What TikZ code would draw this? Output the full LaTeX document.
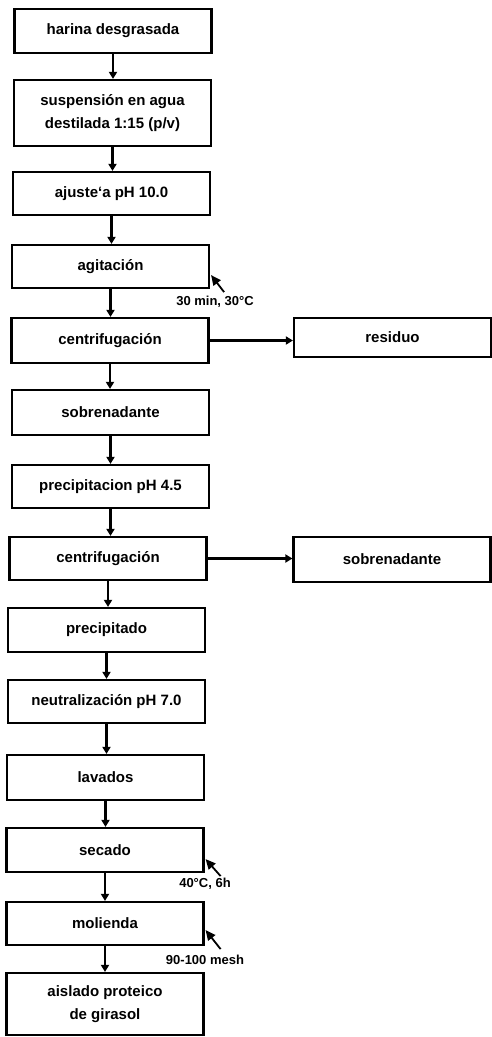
\documentclass[tikz,border=0pt]{standalone}
\usepackage{fontspec}
\setmainfont{Liberation Sans}
\usetikzlibrary{arrows.meta,calc}
\begin{document}
\begin{tikzpicture}[x=1pt,y=-1pt,
  box/.style={draw, line width=2.2pt, minimum width=197pt, inner sep=0pt,
    font=\fontsize{15}{23}\selectfont\bfseries, align=center},
  flow/.style={line width=2.4pt, -{Triangle[length=7pt,width=8pt]}},
  side/.style={line width=1.8pt, -{Triangle[length=10pt,width=9pt]}},
  note/.style={font=\fontsize{13}{15}\selectfont\bfseries, inner sep=0pt}]
\useasboundingbox (0,0) rectangle (492,1037);
\node[box, minimum height=44pt] (b1) at (113,31) {harina desgrasada};
\node[box, minimum height=66pt] (b2) at (112.5,113) {suspensión en agua\\destilada 1:15 (p/v)};
\node[box, minimum height=43pt] (b3) at (111.5,193.5) {ajuste‘a pH 10.0};
\node[box, minimum height=43pt] (b4) at (110.5,266.5) {agitación};
\node[box, minimum height=45pt] (b5) at (110,340.5) {centrifugación};
\node[box, minimum height=45pt] (b6) at (110.5,412.5) {sobrenadante};
\node[box, minimum height=43pt] (b7) at (110.5,486.5) {precipitacion pH 4.5};
\node[box, minimum height=43pt] (b8) at (108,558.5) {centrifugación};
\node[box, minimum height=44pt] (b9) at (106.5,630) {precipitado};
\node[box, minimum height=43pt] (b10) at (106.5,701.5) {neutralización pH 7.0};
\node[box, minimum height=45pt] (b11) at (105.5,777.5) {lavados};
\node[box, minimum height=44pt] (b12) at (105,850) {secado};
\node[box, minimum height=43pt] (b13) at (105,923.5) {molienda};
\node[box, minimum height=62pt] (b14) at (105,1004) {aislado proteico\\de girasol};
\node[box, minimum height=39pt] (r1) at (392.5,337.5) {residuo};
\node[box, minimum height=45pt] (r2) at (392,559.5) {sobrenadante};
\foreach \a/\b in {b1/b2,b2/b3,b3/b4,b4/b5,b5/b6,b6/b7,b7/b8,b8/b9,b9/b10,b10/b11,b11/b12,b12/b13,b13/b14}
  \draw[flow] (\a.south) -- (\a.south |- \b.north);
\draw[flow] (b5.east) -- (b5.east -| r1.west);
\draw[flow] (b8.east) -- (b8.east -| r2.west);
\coordinate (t4) at ($(b4.south east)+(14,3)$);
\coordinate (h4) at ($(b4.south east)+(1,-14)$);
\draw[side] (t4) -- (h4);
\coordinate (t12) at ($(b12.south east)+(16,3)$);
\coordinate (h12) at ($(b12.south east)+(1,-14)$);
\draw[side] (t12) -- (h12);
\coordinate (t13) at ($(b13.south east)+(16,3)$);
\coordinate (h13) at ($(b13.south east)+(1,-16)$);
\draw[side] (t13) -- (h13);
\node[note] (n4) at (215,302) {30 min, 30°C};
\node[note] (n12) at (205,884) {40°C, 6h};
\node[note] (n13) at (205,960) {90-100 mesh};
\end{tikzpicture}
\end{document}
